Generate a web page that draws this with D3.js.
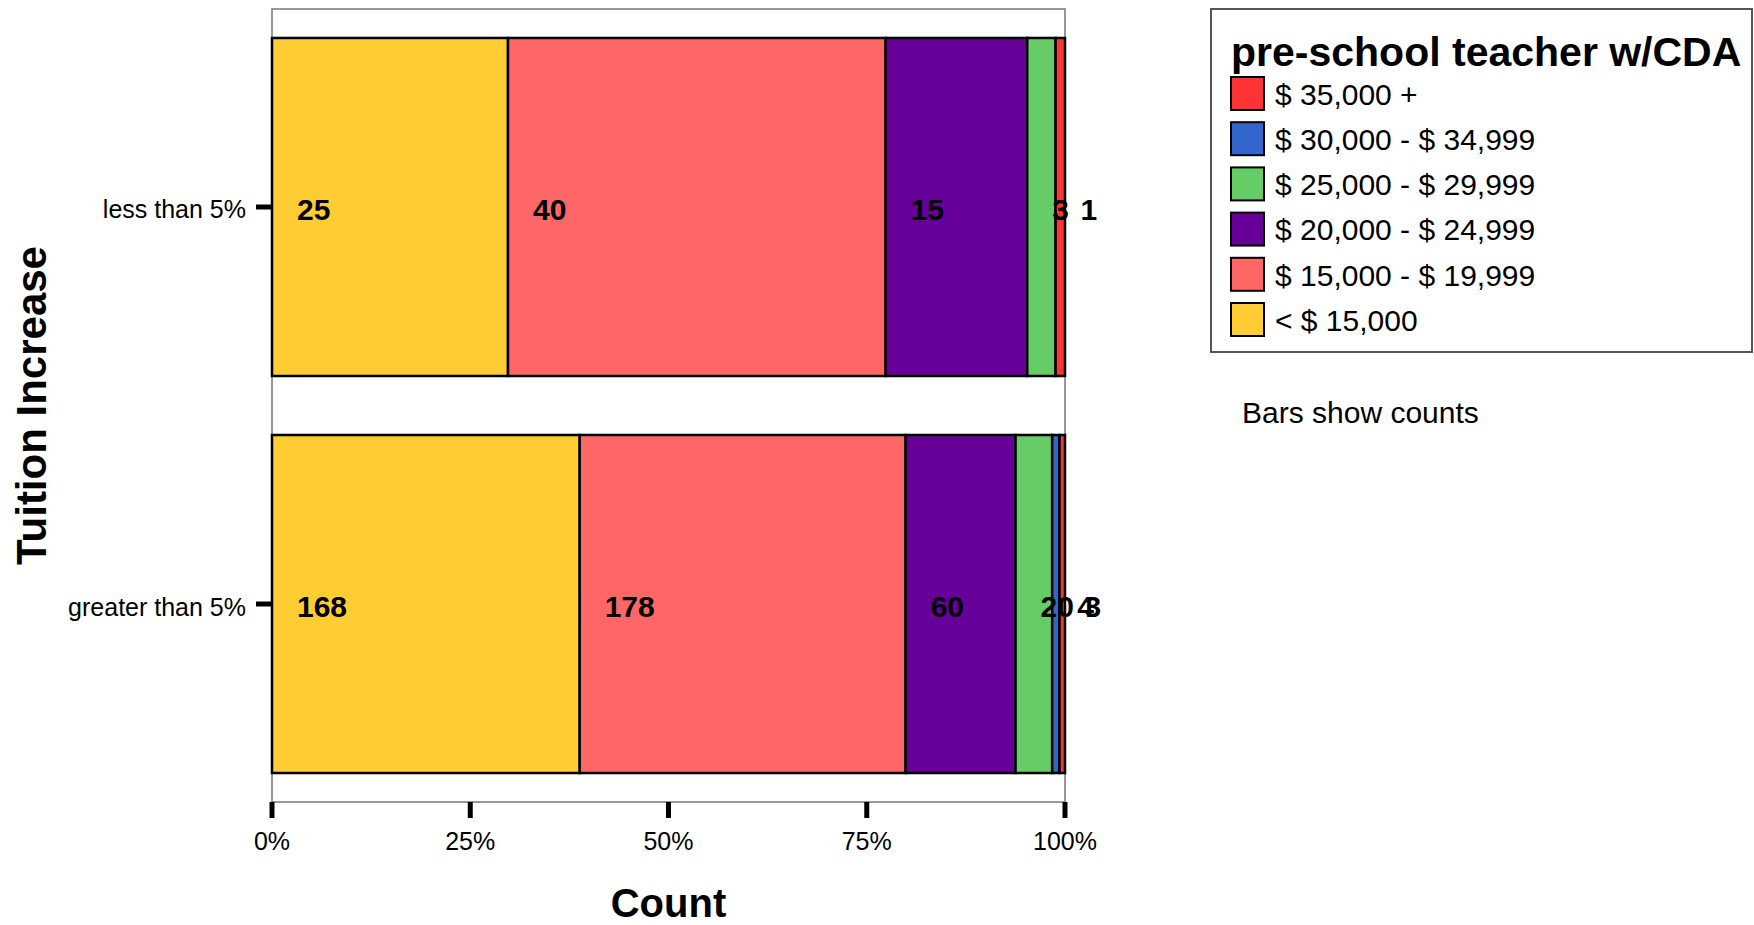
<!DOCTYPE html>
<html><head><meta charset="utf-8">
<script src="https://cdn.jsdelivr.net/npm/d3@7"></script>
<style>body{margin:0;background:#fff}svg{display:block;font-family:"Liberation Sans",Arial,sans-serif}</style>
</head><body><svg id="c" width="1754" height="925"></svg>
<script>
const categories = ["less than 5%", "greater than 5%"];
const seriesNames = ["< $ 15,000", "$ 15,000 - $ 19,999", "$ 20,000 - $ 24,999", "$ 25,000 - $ 29,999", "$ 30,000 - $ 34,999", "$ 35,000 +"];
const seriesColors = ["#FFCC33", "#FF6666", "#660099", "#66CC66", "#3366CC", "#FF3333"];
const lessThan5 = [25, 40, 15, 3, 0, 1];
const greaterThan5 = [168, 178, 60, 20, 4, 3];
const xTicks = [0, 0.25, 0.5, 0.75, 1];
const xTickLabels = ["0%", "25%", "50%", "75%", "100%"];
const legendTitle = "pre-school teacher w/CDA";
const yTitle = "Tuition Increase";
const xTitle = "Count";
const note = "Bars show counts";

const values = [lessThan5, greaterThan5];
const svg = d3.select("#c");
const x = d3.scaleLinear().domain([0, 1]).range([272, 1065]);
const y = d3.scaleBand().domain(categories).range([9, 802]).paddingInner(0.1486).paddingOuter(0.073);

// frame
svg.append("rect").attr("x", 272).attr("y", 9).attr("width", 793).attr("height", 793)
  .attr("fill", "none").attr("stroke", "#777").attr("stroke-width", 1.5);

// bars
categories.forEach((cat, ci) => {
  const vals = values[ci];
  const total = d3.sum(vals);
  let cum = 0;
  const segs = vals.map((v, i) => { const s = {v, i, x0: cum / total, x1: (cum + v) / total}; cum += v; return s; });
  const g = svg.append("g");
  g.selectAll("rect").data(segs.filter(s => s.v > 0)).join("rect")
    .attr("x", s => x(s.x0)).attr("width", s => x(s.x1) - x(s.x0))
    .attr("y", y(cat)).attr("height", y.bandwidth())
    .attr("fill", s => seriesColors[s.i]).attr("stroke", "#000").attr("stroke-width", 2.5);
  g.selectAll("text").data(segs.filter(s => s.v > 0)).join("text")
    .attr("x", s => x(s.x0) + 25).attr("y", y(cat) + y.bandwidth() / 2 + 2.5)
    .attr("dy", "0.36em").attr("font-size", 30).attr("font-weight", "bold")
    .text(s => s.v);
});

// x axis ticks
const xa = svg.append("g");
xa.selectAll("line").data(xTicks).join("line")
  .attr("x1", d => x(d)).attr("x2", d => x(d)).attr("y1", 802).attr("y2", 818)
  .attr("stroke", "#000").attr("stroke-width", 5);
xa.selectAll("text").data(xTicks).join("text")
  .attr("x", d => x(d)).attr("y", 850).attr("text-anchor", "middle").attr("font-size", 25)
  .text((d, i) => xTickLabels[i]);

// y axis ticks
const ya = svg.append("g");
ya.selectAll("line").data(categories).join("line")
  .attr("x1", 256).attr("x2", 272).attr("y1", d => y(d) + y.bandwidth() / 2).attr("y2", d => y(d) + y.bandwidth() / 2)
  .attr("stroke", "#000").attr("stroke-width", 5);
ya.selectAll("text").data(categories).join("text")
  .attr("x", 246).attr("y", d => y(d) + y.bandwidth() / 2 + 2.5).attr("dy", "0.36em")
  .attr("text-anchor", "end").attr("font-size", 25).text(d => d);

// titles
svg.append("text").attr("x", 668.5).attr("y", 917).attr("text-anchor", "middle")
  .attr("font-size", 40).attr("font-weight", "bold").text(xTitle);
svg.append("text").attr("transform", "translate(46,405.5) rotate(-90)").attr("text-anchor", "middle")
  .attr("font-size", 42).attr("font-weight", "bold").text(yTitle);

// legend
svg.append("rect").attr("x", 1211).attr("y", 9).attr("width", 541).attr("height", 343)
  .attr("fill", "#fff").attr("stroke", "#555").attr("stroke-width", 2);
svg.append("text").attr("x", 1231).attr("y", 66).attr("font-size", 41).attr("font-weight", "bold").text(legendTitle);
const legendOrder = d3.range(seriesNames.length).reverse();
const lg = svg.append("g").selectAll("g").data(legendOrder).join("g")
  .attr("transform", (d, k) => `translate(0,${94 + k * 45.2})`);
lg.append("rect").attr("x", 1231).attr("y", -17).attr("width", 33).attr("height", 33)
  .attr("fill", d => seriesColors[d]).attr("stroke", "#000").attr("stroke-width", 2);
lg.append("text").attr("x", 1275).attr("y", 0).attr("dy", "0.36em").attr("font-size", 30).text(d => seriesNames[d]);

svg.append("text").attr("x", 1242).attr("y", 423).attr("font-size", 30).text(note);
</script></body></html>
